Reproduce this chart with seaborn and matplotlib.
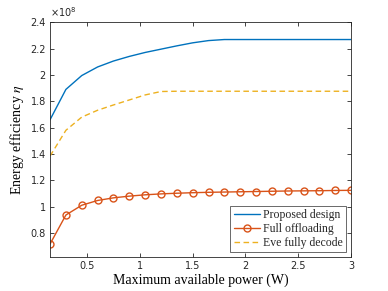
import numpy as np
import matplotlib
matplotlib.use("Agg")
import matplotlib.pyplot as plt
import seaborn as sns
from matplotlib.ticker import MultipleLocator

# maximum available power (W)
power = [0.15, 0.3, 0.45, 0.6, 0.75, 0.9, 1.05, 1.2, 1.35, 1.5,
         1.65, 1.8, 1.95, 2.1, 2.25, 2.4, 2.55, 2.7, 2.85, 3.0]

# energy efficiency, units of 1e8
proposed = [1.66, 1.89, 1.995, 2.06, 2.105, 2.14, 2.17, 2.195, 2.22, 2.243,
            2.26, 2.268, 2.268, 2.268, 2.268, 2.268, 2.268, 2.268, 2.268, 2.268]
full_off = [0.718, 0.938, 1.012, 1.048, 1.068, 1.081, 1.091, 1.098, 1.103, 1.107,
            1.11, 1.112, 1.114, 1.116, 1.118, 1.12, 1.121, 1.122, 1.124, 1.125]
eve_full = [1.385, 1.58, 1.68, 1.732, 1.772, 1.81, 1.848, 1.874, 1.876, 1.876,
            1.876, 1.876, 1.876, 1.876, 1.876, 1.876, 1.876, 1.876, 1.876, 1.876]

labels = ["Proposed design", "Full offloading", "Eve fully decode"]
colors = ["#0072BD", "#D95319", "#EDB120"]

sns.set_style("ticks")
plt.rcParams["font.family"] = ["DejaVu Sans"]
plt.rcParams["mathtext.fontset"] = "stix"
axc = "#262626"

fig = plt.figure(figsize=(3.88, 2.91), dpi=100)
ax = fig.add_axes([0.129, 0.117, 0.776, 0.807])

x = np.array(power)
sns.lineplot(x=x, y=np.array(proposed) * 1e8, color=colors[0], linewidth=1.0,
             label=labels[0], ax=ax)
sns.lineplot(x=x, y=np.array(full_off) * 1e8, color=colors[1], linewidth=1.0,
             marker="o", markersize=5, markerfacecolor="none",
             markeredgecolor=colors[1], markeredgewidth=1.0,
             label=labels[1], ax=ax)
sns.lineplot(x=x, y=np.array(eve_full) * 1e8, color=colors[2], linewidth=1.0,
             dashes=False, linestyle=(0, (4, 2.5)), label=labels[2], ax=ax)

ax.set_xlim(0.15, 3)
ax.set_ylim(0.62e8, 2.4e8)
ax.xaxis.set_major_locator(MultipleLocator(0.5))
ax.yaxis.set_major_locator(MultipleLocator(0.2e8))
ax.yaxis.set_major_formatter(plt.FuncFormatter(lambda v, p: f"{v / 1e8:.4g}"))
ax.xaxis.set_major_formatter(plt.FuncFormatter(lambda v, p: f"{v:g}"))
ax.text(0.0, 1.012, "$\\times10^{8}$", transform=ax.transAxes, fontsize=7,
        color=axc, ha="left", va="bottom", math_fontfamily="dejavusans")

ax.tick_params(direction="in", top=True, right=True, length=3, width=0.6,
               labelsize=7, colors=axc, pad=3)
for s in ax.spines.values():
    s.set_linewidth(0.6)
    s.set_color(axc)

ax.set_xlabel("Maximum available power (W)", family="Liberation Serif",
              fontsize=10, color="black", labelpad=2)
ax.set_ylabel("Energy efficiency $\\eta$", family="Liberation Serif",
              fontsize=10, color="black", labelpad=3)

leg = ax.legend(loc="lower right",
                prop={"family": "Liberation Serif", "size": 8.5},
                frameon=True, fancybox=False, edgecolor=axc,
                borderaxespad=0.4, handlelength=2.2, handletextpad=0.3,
                labelspacing=0.15, borderpad=0.3)
leg.get_frame().set_linewidth(0.6)

fig.savefig("out.png", dpi=100, facecolor="white")
